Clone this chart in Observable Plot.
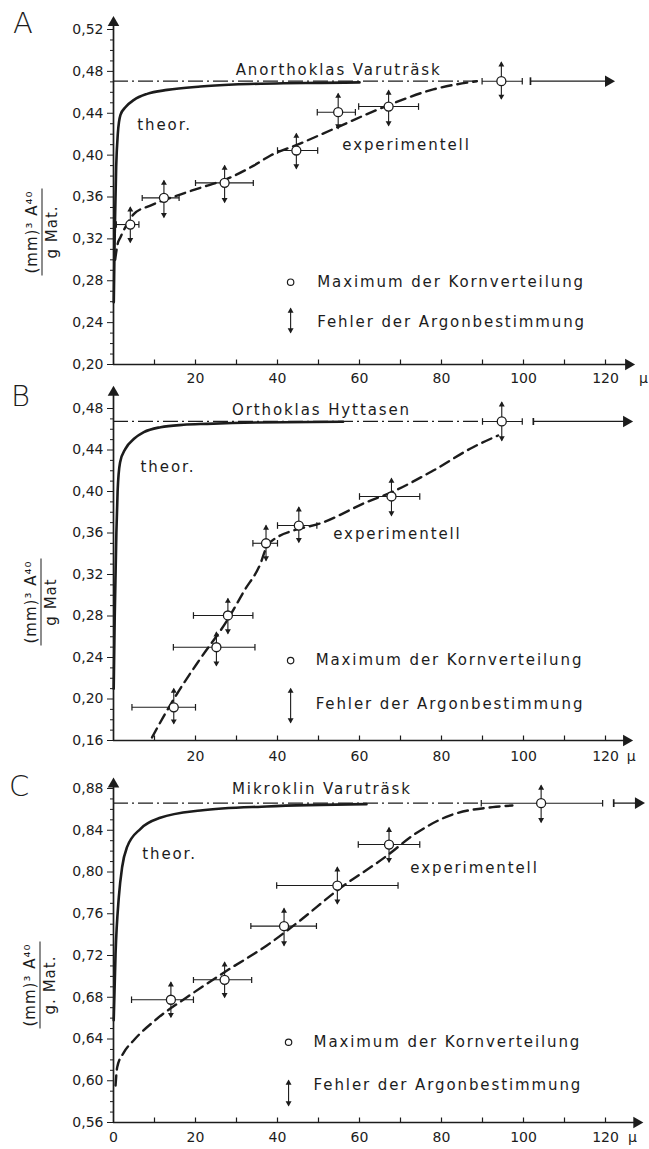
<!DOCTYPE html>
<html>
<head>
<meta charset="utf-8">
<script src="https://cdn.jsdelivr.net/npm/d3@7"></script>
<script src="https://cdn.jsdelivr.net/npm/@observablehq/plot@0.6"></script>
<style>
  body { margin: 0; background: #fff; }
  #fig { position: relative; width: 649px; height: 1149px; overflow: hidden; font-family: "DejaVu Sans", sans-serif; color: #1c1c1c; background: #fff; }
  #fig svg { display: block; }
  #fig g[aria-label="text"] text { letter-spacing: 1.9px; }
  .letter { position: absolute; font-size: 29px; line-height: 29px; font-weight: 300; }
  .ylab { position: absolute; transform: translate(-50%, -50%) rotate(-90deg); text-align: center; font-size: 15px; line-height: 19px; white-space: nowrap; letter-spacing: 1px; }
  .ylab .num { display: block; border-bottom: 1.6px solid #1c1c1c; padding: 0 2px; }
  .ylab .den { display: block; }
</style>
</head>
<body>
<div id="fig"></div>
<script>
const FONT = '"DejaVu Sans", sans-serif';
const INK = "#1c1c1c";

// ---------- A: Anorthoklas Varuträsk ----------
const aTheorX = [0.07, 0.3, 0.65, 1.05, 1.7, 2.9, 5.0, 8.2, 13.1, 21.2, 29.3, 41.5, 50.5, 60];
const aTheorY = [0.2595, 0.3248, 0.3884, 0.4203, 0.4385, 0.4457, 0.4528, 0.4585, 0.4623, 0.4655, 0.4674, 0.4687, 0.4690, 0.4695];
const aExpX = [0.4, 1.0, 1.7, 3.0, 5.0, 9.0, 15.5, 21.2, 27.7, 34.2, 38.3, 45.5, 53.5, 67, 78, 88.6];
const aExpY = [0.300, 0.315, 0.3216, 0.332, 0.3439, 0.3518, 0.3614, 0.3688, 0.3773, 0.390, 0.3996, 0.411, 0.4247, 0.4476, 0.4628, 0.4706];
const aPtX   = [4.1, 12.3, 27.1, 44.6, 54.8, 67.1, 94.6];
const aPtY   = [0.3337, 0.3592, 0.3735, 0.4044, 0.4410, 0.4464, 0.4706];
const aPtXLo = [0.7, 7.0, 20.0, 40.0, 49.7, 59.8, 89.9];
const aPtXHi = [6.2, 16.0, 34.1, 49.8, 59.0, 74.4, 99.7];
const aPtYLo = [0.3168, 0.3407, 0.3550, 0.3872, 0.4254, 0.4283, 0.4537];
const aPtYHi = [0.3502, 0.3757, 0.3900, 0.4206, 0.4588, 0.4617, 0.4887];
const aSaturation = 0.4706;

// ---------- B: Orthoklas Hyttasen ----------
const bTheorX = [0.05, 0.3, 0.7, 1.0, 1.6, 2.9, 5.0, 7.4, 11.5, 17.1, 22.8, 35, 56];
const bTheorY = [0.210, 0.280, 0.360, 0.400, 0.428, 0.4411, 0.4508, 0.4572, 0.4620, 0.4643, 0.4652, 0.4665, 0.4672];
const bExpX = [9.4, 12.2, 15.5, 21.2, 27.6, 32, 35.8, 37.4, 40, 43.9, 50.4, 61.7, 67.8, 78, 87.7, 93.8];
const bExpY = [0.163, 0.183, 0.205, 0.239, 0.275, 0.305, 0.330, 0.347, 0.356, 0.3624, 0.3692, 0.3897, 0.3993, 0.4202, 0.4427, 0.454];
const bPtX   = [14.7, 25.1, 27.9, 37.2, 45.2, 67.8, 94.7];
const bPtY   = [0.1920, 0.2499, 0.2805, 0.3501, 0.3672, 0.3952, 0.4675];
const bPtXLo = [4.5, 14.6, 19.5, 34.0, 40.0, 60.0, 90.0];
const bPtXHi = [20.0, 34.5, 34.0, 40.0, 49.6, 74.7, 99.7];
const bPtYLo = [0.1763, 0.2322, 0.2631, 0.3335, 0.3511, 0.3768, 0.4492];
const bPtYHi = [0.2100, 0.2644, 0.2968, 0.3672, 0.3849, 0.4125, 0.4861];
const bSaturation = 0.4675;

// ---------- C: Mikroklin Varuträsk ----------
const cTheorX = [0.05, 0.5, 1.3, 2.1, 3.3, 6.6, 11.4, 21.2, 37.4, 61.7];
const cTheorY = [0.658, 0.7216, 0.7759, 0.8046, 0.8238, 0.8414, 0.8519, 0.8589, 0.8628, 0.8650];
const cExpX = [0.5, 0.9, 2.5, 4.9, 10.6, 17.9, 27.7, 37.4, 45.5, 54.6, 67, 73, 82, 92.5, 97.3];
const cExpY = [0.5954, 0.613, 0.627, 0.6386, 0.6594, 0.680, 0.7056, 0.7296, 0.7535, 0.7825, 0.8165, 0.835, 0.8541, 0.8621, 0.8637];
const cPtX   = [14.0, 27.1, 41.6, 54.6, 67.2, 104.3];
const cPtY   = [0.6776, 0.6967, 0.7481, 0.7870, 0.8263, 0.8659];
const cPtXLo = [4.4, 19.5, 33.5, 39.8, 59.7, 89.7];
const cPtXHi = [19.5, 33.7, 49.5, 69.4, 74.7, 119.3];
const cPtYLo = [0.6609, 0.6800, 0.7296, 0.7695, 0.8094, 0.8477];
const cPtYHi = [0.6944, 0.7136, 0.7650, 0.8046, 0.8424, 0.8829];
const cSaturation = 0.866;

const xLabelsAB = [20, 40, 60, 80, 100, 120];
const xLabelsC = [0, 20, 40, 60, 80, 100, 120];
const xTickMarks = [10, 20, 30, 40, 50, 60, 70, 80, 90, 100, 110, 120];

const fmtY = d => d.toFixed(2).replace(".", ",");
// short vertical stroke used for the inward x-axis ticks
const vBar = { draw(ctx, size) { const h = Math.sqrt(size / Math.PI); ctx.moveTo(0, -h); ctx.lineTo(0, h); } };
const zip = (xs, ys) => xs.map((x, i) => ({x, y: ys[i]}));

function panel(c) {
  const [y0, y1] = c.yDomain;
  const steps = Math.round((y1 - y0) / 0.01);
  const all = d3.range(steps + 1).map(i => +(y0 + i * 0.01).toFixed(2));
  const major = all.filter((v, i) => i % 4 === 0);
  const minor = all.filter((v, i) => i % 4 !== 0);
  const pts = c.ptX.map((x, i) => ({x, y: c.ptY[i], xlo: c.ptXLo[i], xhi: c.ptXHi[i], ylo: c.ptYLo[i], yhi: c.ptYHi[i]}));
  const L = c.legend;
  return Plot.plot({
    width: 649, height: c.height,
    marginLeft: 113, marginRight: 44, marginTop: c.marginTop, marginBottom: c.marginBottom,
    x: {domain: [0, 120], label: null},
    y: {domain: [y0, y1], label: null},
    style: {fontFamily: FONT, fontSize: "14px", color: INK, background: "white", overflow: "visible"},
    marks: [
      // saturation level: dash-dot up to the last point, solid arrow beyond it
      Plot.ruleY([c.sat], {x1: 0, x2: c.satDashEnd, stroke: INK, strokeWidth: 1.2, strokeDasharray: "15,4,2,4"}),
      Plot.link([c.sat], {x1: c.satArrowStart, x2: c.satArrowEnd, y1: d => d, y2: d => d, stroke: INK, strokeWidth: 1.3, markerStart: "tick"}),
      Plot.dot([c.sat], {x: c.satArrowEnd, y: d => d, symbol: "triangle", rotate: 90, r: 4.3, fill: INK}),
      // theoretical and experimental curves
      Plot.line(zip(c.theorX, c.theorY), {x: "x", y: "y", curve: "monotone-x", stroke: INK, strokeWidth: 2.6}),
      Plot.line(zip(c.expX, c.expY), {x: "x", y: "y", curve: "monotone-x", stroke: INK, strokeWidth: 2.4, strokeDasharray: "10,6"}),
      // grain-size spread and argon error bars
      Plot.link(pts, {x1: "xlo", x2: "xhi", y1: "y", y2: "y", stroke: INK, strokeWidth: 1.1, markerStart: "tick", markerEnd: "tick"}),
      Plot.link(pts, {x1: "x", x2: "x", y1: "ylo", y2: "yhi", stroke: INK, strokeWidth: 1.1}),
      Plot.dot(pts, {x: "x", y: "yhi", symbol: "triangle", r: 2.2, fill: INK, dy: 2.5}),
      Plot.dot(pts, {x: "x", y: "ylo", symbol: "triangle", rotate: 180, r: 2.2, fill: INK, dy: -2.5}),
      Plot.dot(pts, {x: "x", y: "y", r: 4.5, fill: "white", stroke: INK, strokeWidth: 1.3}),
      // axes with arrow tips
      Plot.ruleX([0], {y1: y0, y2: c.yArrow, stroke: INK, strokeWidth: 1.7}),
      Plot.dot([0], {x: 0, y: c.yArrow, symbol: "triangle", r: 4.3, fill: INK}),
      Plot.ruleY([y0], {x1: 0, x2: c.xArrow, stroke: INK, strokeWidth: 1.7}),
      Plot.dot([0], {x: c.xArrow, y: y0, symbol: "triangle", rotate: 90, r: 4.3, fill: INK}),
      Plot.axisY({ticks: major, tickFormat: fmtY, tickSize: 6, tickPadding: 4, label: null}),
      Plot.axisY({ticks: minor, tickFormat: () => "", tickSize: 3, label: null}),
      Plot.axisX({ticks: c.xLabels, tickSize: 0, tickPadding: c.xPad, label: null}),
      Plot.dot(xTickMarks, {x: d => d, y: y0, symbol: vBar, r: 2.5, stroke: INK, fill: "none", strokeWidth: 1.2, dy: -2.5}),
      Plot.text(["μ"], {x: c.muX, y: y0, dy: c.xPad + 5, fontSize: 14, fill: INK}),
      // annotations
      Plot.text([c.title], {x: c.titleAt[0], y: c.titleAt[1], textAnchor: "start", fontSize: 15, fill: INK}),
      Plot.text(["theor."], {x: c.theorAt[0], y: c.theorAt[1], textAnchor: "start", fontSize: 15, fill: INK}),
      Plot.text(["experimentell"], {x: c.expAt[0], y: c.expAt[1], textAnchor: "start", fontSize: 15, fill: INK}),
      // key
      Plot.dot([0], {x: L.x, y: L.circleY, r: 3.2, fill: "white", stroke: INK, strokeWidth: 1.2}),
      Plot.text(["Maximum der Kornverteilung"], {x: L.textX, y: L.circleY, textAnchor: "start", fontSize: 15, fill: INK}),
      Plot.link([0], {x1: L.x, x2: L.x, y1: L.arrowLo, y2: L.arrowHi, stroke: INK, strokeWidth: 1.1}),
      Plot.dot([0], {x: L.x, y: L.arrowHi, symbol: "triangle", r: 2.2, fill: INK, dy: 2.5}),
      Plot.dot([0], {x: L.x, y: L.arrowLo, symbol: "triangle", rotate: 180, r: 2.2, fill: INK, dy: -2.5}),
      Plot.text(["Fehler der Argonbestimmung"], {x: L.textX, y: L.errorTextY, textAnchor: "start", fontSize: 15, fill: INK})
    ]
  });
}

const panels = [
  {letter: "A", letterPos: [13, 9], ylab: ["(mm)³ A⁴⁰", "g Mat."], ylabPos: [42, 232],
   height: 386, marginTop: 29, marginBottom: 22, yDomain: [0.20, 0.52], yArrow: 0.5266, xArrow: 125.6,
   xLabels: xLabelsAB, xPad: 9, muX: 129.5,
   theorX: aTheorX, theorY: aTheorY, expX: aExpX, expY: aExpY,
   ptX: aPtX, ptY: aPtY, ptXLo: aPtXLo, ptXHi: aPtXHi, ptYLo: aPtYLo, ptYHi: aPtYHi,
   sat: aSaturation, satDashEnd: 89.9, satArrowStart: 101.7, satArrowEnd: 120.7,
   title: "Anorthoklas Varuträsk", titleAt: [29.8, 0.4808], theorAt: [5.8, 0.4283], expAt: [55.8, 0.4092],
   legend: {x: 43.2, circleY: 0.2786, textX: 49.7, arrowLo: 0.2306, arrowHi: 0.2535, errorTextY: 0.2404}},
  {letter: "B", letterPos: [11, 382], ylab: ["(mm)³ A⁴⁰", "g Mat"], ylabPos: [41, 602],
   height: 380, marginTop: 22, marginBottom: 26, yDomain: [0.16, 0.48], yArrow: 0.4954, xArrow: 125.1,
   xLabels: xLabelsAB, xPad: 11, muX: 126.5,
   theorX: bTheorX, theorY: bTheorY, expX: bExpX, expY: bExpY,
   ptX: bPtX, ptY: bPtY, ptXLo: bPtXLo, ptXHi: bPtXHi, ptYLo: bPtYLo, ptYHi: bPtYHi,
   sat: bSaturation, satDashEnd: 90.0, satArrowStart: 102.4, satArrowEnd: 125.1,
   title: "Orthoklas Hyttasen", titleAt: [28.9, 0.478], theorAt: [6.6, 0.4234], expAt: [53.6, 0.3592],
   legend: {x: 43.2, circleY: 0.237, textX: 49.3, arrowLo: 0.1773, arrowHi: 0.210, errorTextY: 0.1953}},
  {letter: "C", letterPos: [9, 772], ylab: ["(mm)³ A⁴⁰", "g. Mat."], ylabPos: [40, 985],
   height: 383, marginTop: 22, marginBottom: 27, yDomain: [0.56, 0.88], yArrow: 0.8841, xArrow: 127.6,
   xLabels: xLabelsC, xPad: 10, muX: 126.8,
   theorX: cTheorX, theorY: cTheorY, expX: cExpX, expY: cExpY,
   ptX: cPtX, ptY: cPtY, ptXLo: cPtXLo, ptXHi: cPtXHi, ptYLo: cPtYLo, ptYHi: cPtYHi,
   sat: cSaturation, satDashEnd: 89.7, satArrowStart: 122.0, satArrowEnd: 128.0,
   title: "Mikroklin Varuträsk", titleAt: [28.9, 0.8797], theorAt: [7.0, 0.8174], expAt: [72.4, 0.8036],
   legend: {x: 42.7, circleY: 0.6369, textX: 48.8, arrowLo: 0.5763, arrowHi: 0.6002, errorTextY: 0.5955}}
];

const fig = document.getElementById("fig");
for (const p of panels) fig.appendChild(panel(p));
for (const p of panels) {
  const l = document.createElement("div");
  l.className = "letter";
  l.style.left = p.letterPos[0] + "px";
  l.style.top = p.letterPos[1] + "px";
  l.textContent = p.letter;
  fig.appendChild(l);
  const y = document.createElement("div");
  y.className = "ylab";
  y.style.left = p.ylabPos[0] + "px";
  y.style.top = p.ylabPos[1] + "px";
  const num = document.createElement("span"); num.className = "num"; num.textContent = p.ylab[0];
  const den = document.createElement("span"); den.className = "den"; den.textContent = p.ylab[1];
  y.append(num, den);
  fig.appendChild(y);
}
</script>
</body>
</html>
